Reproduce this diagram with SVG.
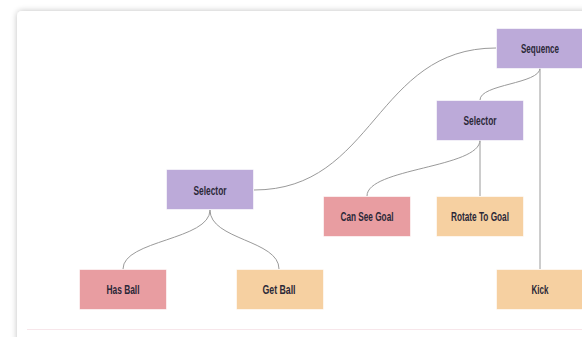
<svg xmlns="http://www.w3.org/2000/svg" width="582" height="337" viewBox="0 0 582 337">
<defs>
<filter id="sh" x="-5%" y="-5%" width="110%" height="110%">
<feGaussianBlur in="SourceAlpha" stdDeviation="3"/>
<feOffset dx="0" dy="0" result="b"/>
<feComponentTransfer><feFuncA type="linear" slope="0.25"/></feComponentTransfer>
<feMerge><feMergeNode/><feMergeNode in="SourceGraphic"/></feMerge>
</filter>
</defs>
<style>
.n{stroke:#ffffff;stroke-opacity:0.6;stroke-width:1}
.p{fill:#bcaad9}
.r{fill:#e89da1}
.o{fill:#f6d0a1}
.t{font-family:"Liberation Sans",Arial,sans-serif;font-size:12.5px;fill:#2b2838;text-anchor:middle;font-weight:bold}
.c{fill:none;stroke:#9a9a9a;stroke-width:1}
</style>
<rect x="0" y="0" width="582" height="337" fill="#ffffff"/>
<rect x="17" y="11" width="600" height="360" rx="5" fill="#ffffff" filter="url(#sh)"/>
<line x1="27" y1="329.5" x2="582" y2="329.5" stroke="#f7e6ea" stroke-width="1"/>
<g id="connectors">
<path class="c" d="M496,48 C375,48 375,190 254,190"/>
<path class="c" d="M540,68 C540,84 480,84 480,100"/>
<path class="c" d="M540,68 L540,269"/>
<path class="c" d="M480,140 C480,168 367,168 367,196"/>
<path class="c" d="M480,140 L480,196"/>
<path class="c" d="M210,210 C210,240 123,240 123,269"/>
<path class="c" d="M210,210 C210,240 279,240 279,269"/>
</g>
<g id="sequence"><rect class="n p" x="496.5" y="28.5" width="87" height="40"/><text class="t" x="540" y="52.5" textLength="38" lengthAdjust="spacingAndGlyphs">Sequence</text></g>
<g id="selector2"><rect class="n p" x="436.5" y="100.5" width="87" height="40"/><text class="t" x="480" y="124.5" textLength="33" lengthAdjust="spacingAndGlyphs">Selector</text></g>
<g id="selector1"><rect class="n p" x="166.5" y="169.5" width="87" height="40"/><text class="t" x="210" y="194.5" textLength="33" lengthAdjust="spacingAndGlyphs">Selector</text></g>
<g id="canseegoal"><rect class="n r" x="323.5" y="196.5" width="87" height="40"/><text class="t" x="367" y="221" textLength="53" lengthAdjust="spacingAndGlyphs">Can See Goal</text></g>
<g id="rotatetogoal"><rect class="n o" x="436.5" y="196.5" width="87" height="40"/><text class="t" x="480" y="221" textLength="58" lengthAdjust="spacingAndGlyphs">Rotate To Goal</text></g>
<g id="hasball"><rect class="n r" x="79.5" y="269.5" width="87" height="40"/><text class="t" x="123" y="294" textLength="33" lengthAdjust="spacingAndGlyphs">Has Ball</text></g>
<g id="getball"><rect class="n o" x="236.5" y="269.5" width="87" height="40"/><text class="t" x="279" y="294" textLength="33" lengthAdjust="spacingAndGlyphs">Get Ball</text></g>
<g id="kick"><rect class="n o" x="496.5" y="269.5" width="87" height="40"/><text class="t" x="540" y="294" textLength="17" lengthAdjust="spacingAndGlyphs">Kick</text></g>
</svg>
